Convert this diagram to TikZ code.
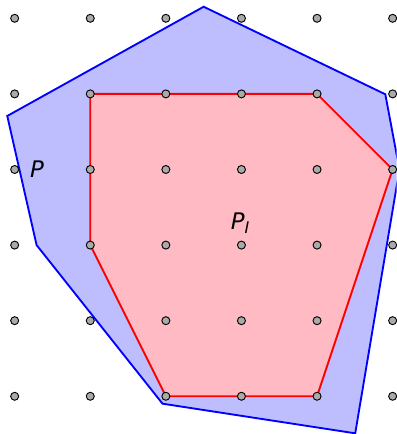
\documentclass[tikz,border=0pt]{standalone}
\usepackage{fontspec}
\setmainfont{DejaVu Sans}
\usetikzlibrary{backgrounds}
\definecolor{polyblue}{RGB}{190, 190, 255}
\definecolor{hullpink}{RGB}{255, 186, 196}
\definecolor{ptgray}{RGB}{170, 170, 170}
\tikzset{
  latpt/.style={circle, draw=black, fill=ptgray, inner sep=0pt,
                minimum size=0.106cm, line width=0.35pt},
  outerpoly/.style={draw=blue, fill=polyblue, line width=0.7pt, line join=miter},
  innerpoly/.style={draw=red, fill=hullpink, line width=0.7pt, line join=miter},
  polylabel/.style={font=\fontsize{8.6}{10}\selectfont\itshape, anchor=base, inner sep=0pt},
}

\begin{document}
\begin{tikzpicture}
        \useasboundingbox (-0.194, -0.499) rectangle (5.052, 5.242);
        % lattice points
        \foreach \x in {0,...,5}
          \foreach \y in {0,...,5}
            \node[latpt] (p\x\y) at (\x, \y) {};

        % polygon P
        \coordinate (v1) at (2.50, 5.153);
        \coordinate (v2) at (4.903, 3.995);
        \coordinate (v3) at (5.09, 3.0);
        \coordinate (v4) at (4.505, -0.49);
        \coordinate (v5) at (1.956, -0.098);
        \coordinate (v6) at (0.29, 2.0);
        \coordinate (v7) at (-0.098, 3.708);

        \begin{scope}[on background layer]
          \clip (-0.194, -0.499) rectangle (5.052, 5.242);
          \draw[outerpoly] (v1) -- (v2) -- (v3) -- (v4) -- (v5) -- (v6) -- (v7) -- cycle;
          % integer hull P_I
          \draw[innerpoly] (p14.center) -- (p44.center) -- (p53.center) -- (p40.center)
               -- (p20.center) -- (p12.center) -- cycle;
        \end{scope}

        \node[polylabel] (lblP) at (0.295, 2.89) {P};
        \node[polylabel] (lblPI) at (2.99, 2.2) {P\textsubscript{I}};
      \end{tikzpicture}
\end{document}
